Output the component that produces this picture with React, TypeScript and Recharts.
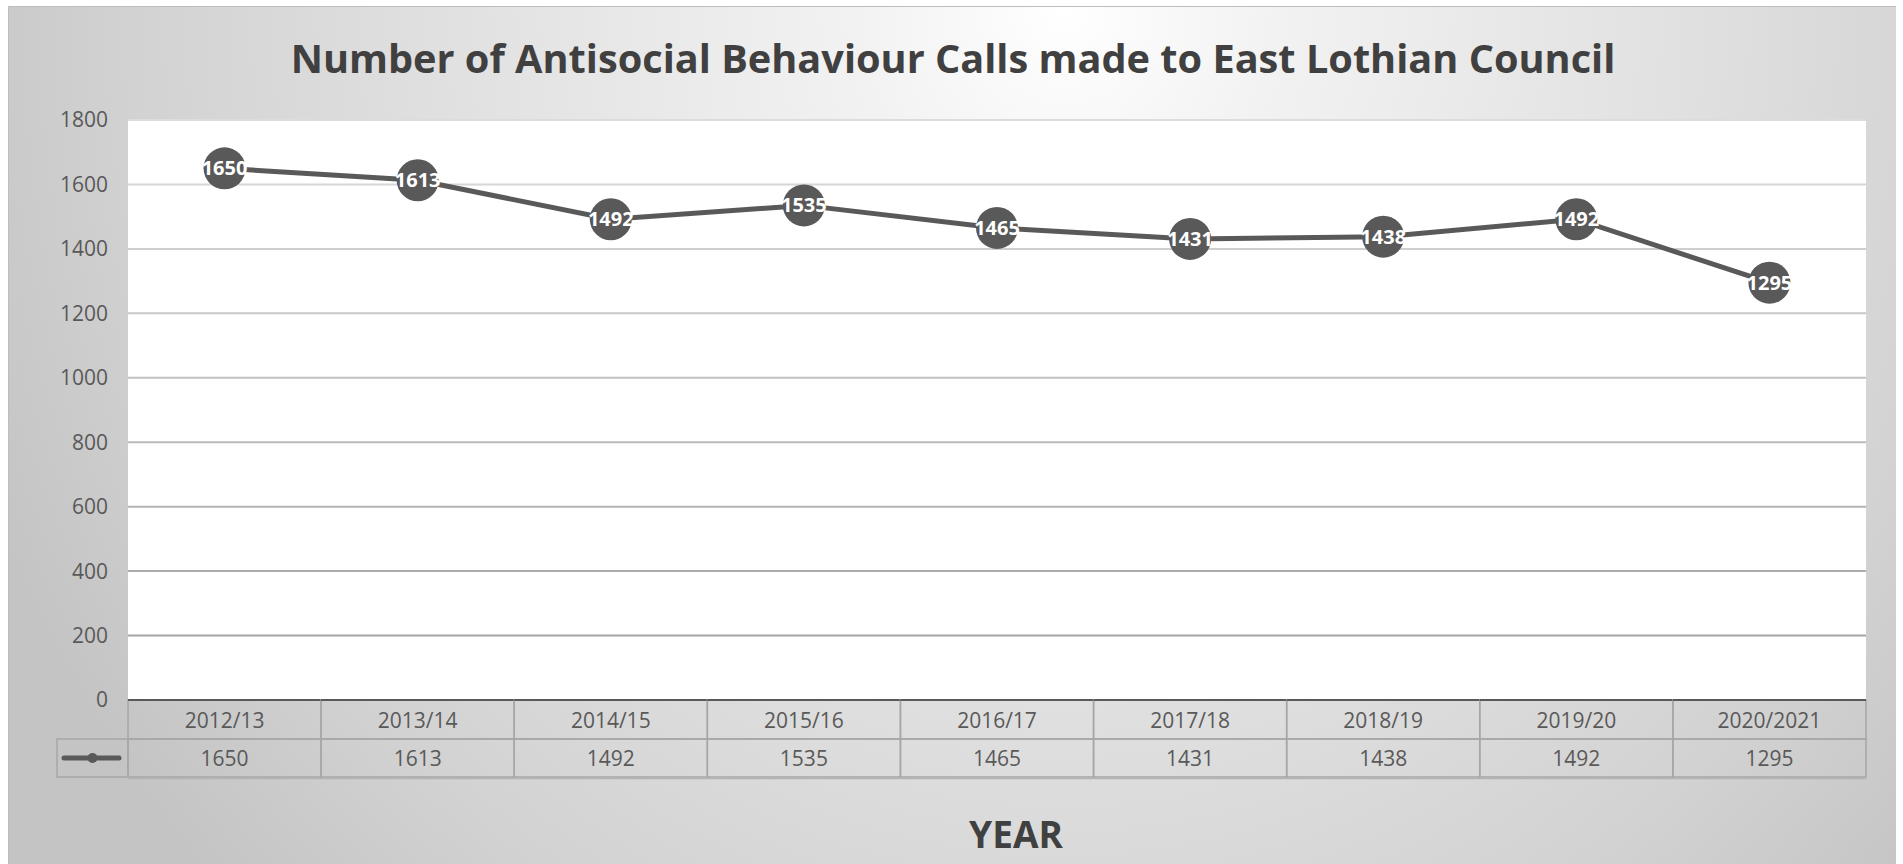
import React from 'react';
import { LineChart, Line, XAxis, YAxis, CartesianGrid, LabelList } from 'recharts';

const categories = ['2012/13', '2013/14', '2014/15', '2015/16', '2016/17', '2017/18', '2018/19', '2019/20', '2020/2021'];
const calls = [1650, 1613, 1492, 1535, 1465, 1431, 1438, 1492, 1295];
const yTicks = [0, 200, 400, 600, 800, 1000, 1200, 1400, 1600, 1800];
const chartTitle = 'Number of Antisocial Behaviour Calls made to East Lothian Council';
const xTitle = 'YEAR';

const data = categories.map((c, i) => ({ year: c, calls: calls[i] }));

const W = 1888;
const H = 858;
const M = { top: 113, right: 31, bottom: 81, left: 59 };
const Y_W = 60;
const X_H = 84;
const PLOT_W = W - M.left - M.right - Y_W;
const BAND = PLOT_W / categories.length;
const ROW1 = 39;
const ROW2 = 38;
const LEGEND_W = 71;
const FONT = '"Open Sans", "Liberation Sans", sans-serif';
const TEXT = '#595959';
const BORDER = '#a6a6a6';

const TableTick = (props: any) => {
  const { x, y, payload } = props;
  const idx = categories.indexOf(payload.value);
  const half = BAND / 2;
  return (
    <g>
      <rect x={x - half} y={y} width={BAND} height={ROW1} fill="none" stroke={BORDER} strokeWidth={1.5} />
      <rect x={x - half} y={y + ROW1} width={BAND} height={ROW2} fill="none" stroke={BORDER} strokeWidth={1.5} />
      <line x1={x - half} x2={x + half} y1={y + ROW1 + ROW2 + 1.5} y2={y + ROW1 + ROW2 + 1.5} stroke="#b4b4b4" strokeWidth={1.5} />
      <line x1={x - half} x2={x + half} y1={y} y2={y} stroke="#595959" strokeWidth={2} />
      <text x={x} y={y + ROW1 / 2} textAnchor="middle" dominantBaseline="central" fill={TEXT} fontSize={21} fontFamily={FONT}>
        {payload.value}
      </text>
      <text x={x} y={y + ROW1 + ROW2 / 2} textAnchor="middle" dominantBaseline="central" fill={TEXT} fontSize={21} fontFamily={FONT}>
        {calls[idx]}
      </text>
      {idx === 0 && (
        <g>
          <rect x={x - half - LEGEND_W} y={y + ROW1} width={LEGEND_W} height={ROW2} fill="none" stroke={BORDER} strokeWidth={1.5} />
          <line x1={x - half - LEGEND_W + 7} x2={x - half - 9} y1={y + ROW1 + ROW2 / 2} y2={y + ROW1 + ROW2 / 2} stroke="#595959" strokeWidth={5} strokeLinecap="round" />
          <circle cx={x - half - LEGEND_W / 2} cy={y + ROW1 + ROW2 / 2} r={5} fill="#595959" />
        </g>
      )}
    </g>
  );
};

export default function App() {
  return (
    <div
      style={{
        position: 'absolute',
        left: 8,
        top: 6,
        width: W,
        height: H,
        boxSizing: 'border-box',
        borderTop: '1px solid #bdbdbd',
        borderLeft: '1px solid #bdbdbd',
        background: 'radial-gradient(ellipse 62% 150% at 56% 0%, #ffffff 0%, #f2f2f2 18%, #e2e2e2 50%, #d2d2d2 80%, #c4c4c4 100%)',
        overflow: 'hidden',
      }}
    >
      <svg width={0} height={0} style={{ position: 'absolute' }}>
        <defs>
          <linearGradient id="gridGrad" gradientUnits="userSpaceOnUse" x1={0} y1={M.top} x2={0} y2={H - M.bottom - X_H}>
            <stop offset="0%" stopColor="#dcdcdc" />
            <stop offset="100%" stopColor="#9e9e9e" />
          </linearGradient>
        </defs>
      </svg>
      <div
        style={{
          position: 'absolute',
          left: 0,
          width: W,
          top: 25,
          textAlign: 'center',
          whiteSpace: 'nowrap',
          fontFamily: FONT,
          fontWeight: 700,
          fontSize: 39.7,
          lineHeight: '52px',
          color: '#404040',
        }}
      >
        {chartTitle}
      </div>
      <div
        style={{
          position: 'absolute',
          left: 1007 - 150,
          width: 300,
          top: 803,
          textAlign: 'center',
          fontFamily: FONT,
          fontWeight: 700,
          fontSize: 37,
          lineHeight: '48px',
          color: '#404040',
        }}
      >
        {xTitle}
      </div>
      <div style={{ position: 'absolute', left: 0, top: 0 }}>
        <LineChart width={W} height={H} data={data} margin={M}>
          <CartesianGrid vertical={false} fill="#ffffff" stroke="url(#gridGrad)" strokeWidth={2} />
          <XAxis
            dataKey="year"
            scale="band"
            height={X_H}
            axisLine={false}
            tickLine={false}
            tickSize={0}
            tickMargin={0}
            interval={0}
            tick={<TableTick />}
          />
          <YAxis
            width={Y_W}
            domain={[0, 1800]}
            ticks={yTicks}
            axisLine={false}
            tickLine={false}
            tickSize={0}
            tickMargin={20}
            tick={{ fill: TEXT, fontSize: 21, fontFamily: FONT }}
          />
          <Line
            dataKey="calls"
            stroke="#595959"
            strokeWidth={5}
            dot={{ r: 21, fill: '#595959', stroke: 'none', strokeWidth: 0 }}
            activeDot={false}
            isAnimationActive={false}
          >
            <LabelList dataKey="calls" position="center" fill="#ffffff" fontSize={20} fontWeight={700} fontFamily={FONT} />
          </Line>
        </LineChart>
      </div>
    </div>
  );
}
